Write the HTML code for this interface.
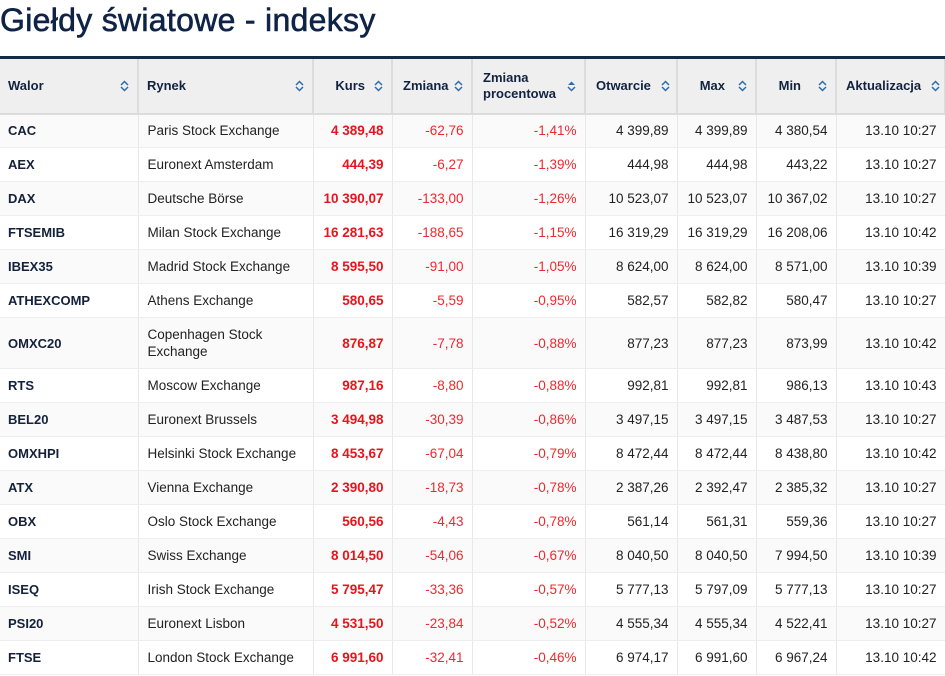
<!DOCTYPE html>
<html><head><meta charset="utf-8"><style>
*{margin:0;padding:0;box-sizing:border-box}
body{width:945px;height:676px;background:#fff;font-family:"Liberation Sans",sans-serif;overflow:hidden;position:relative}
h1{position:absolute;left:0;top:2px;font-size:32px;font-weight:normal;color:#0f2347;letter-spacing:0.3px;line-height:36px;-webkit-text-stroke:0.6px #0f2347}
table{position:absolute;left:0;top:56px;width:945px;border-collapse:collapse;table-layout:fixed;border-top:3px solid #13284b}
th{background:#efefef;height:56px;font-size:13px;color:#12233f;font-weight:bold;border-right:2px solid #dcdcdc;border-bottom:2px solid #dcdcdc;position:relative;padding:0 8px;text-align:left;line-height:16px}
th.r{text-align:right;padding-right:22px}
td{height:34px;font-size:13.5px;color:#222;border-right:1px solid #e8e8e8;border-bottom:1px solid #eee;padding:0 8px;text-align:right;line-height:17px}
tr:nth-child(even) td{background:#fafafa}
td.w{text-align:left;font-weight:bold;color:#14213a;font-size:13px}
td.m{text-align:left;padding-left:9px}
td.k{color:#e8141c;font-weight:bold}
td.z{color:#f0282e}
.s{position:absolute;right:8px;top:50%;margin-top:-6px;width:9px;height:12px}
</style></head><body>
<h1>Giełdy światowe - indeksy</h1>
<table>
<colgroup><col style="width:138px"><col style="width:175px"><col style="width:79px"><col style="width:80px"><col style="width:113px"><col style="width:92px"><col style="width:79px"><col style="width:80px"><col style="width:109px"></colgroup>
<tr>
<th>Walor<svg class="s" viewBox="0 0 9 12"><path d="M1 5L4.5 1.5L8 5M1 7L4.5 10.5L8 7" fill="none" stroke="#2a6cb0" stroke-width="1.5"/></svg></th>
<th>Rynek<svg class="s" viewBox="0 0 9 12"><path d="M1 5L4.5 1.5L8 5M1 7L4.5 10.5L8 7" fill="none" stroke="#2a6cb0" stroke-width="1.5"/></svg></th>
<th class="r" style="padding-right:26px">Kurs<svg class="s" viewBox="0 0 9 12"><path d="M1 5L4.5 1.5L8 5M1 7L4.5 10.5L8 7" fill="none" stroke="#2a6cb0" stroke-width="1.5"/></svg></th>
<th style="padding-left:10px">Zmiana<svg class="s" style="right:8px" viewBox="0 0 9 12"><path d="M1 5L4.5 1.5L8 5M1 7L4.5 10.5L8 7" fill="none" stroke="#2a6cb0" stroke-width="1.5"/></svg></th>
<th style="padding-left:10px">Zmiana<br>procentowa<svg class="s" viewBox="0 0 9 12"><path d="M1 5L4.5 1.5L8 5Z" fill="#2a6cb0"/><path d="M1 7L4.5 10.5L8 7" fill="none" stroke="#2a6cb0" stroke-width="1.5"/></svg></th>
<th style="padding-left:10px">Otwarcie<svg class="s" style="right:6px" viewBox="0 0 9 12"><path d="M1 5L4.5 1.5L8 5M1 7L4.5 10.5L8 7" fill="none" stroke="#2a6cb0" stroke-width="1.5"/></svg></th>
<th class="r" style="padding-right:30px">Max<svg class="s" viewBox="0 0 9 12"><path d="M1 5L4.5 1.5L8 5M1 7L4.5 10.5L8 7" fill="none" stroke="#2a6cb0" stroke-width="1.5"/></svg></th>
<th class="r" style="padding-right:34px">Min<svg class="s" viewBox="0 0 9 12"><path d="M1 5L4.5 1.5L8 5M1 7L4.5 10.5L8 7" fill="none" stroke="#2a6cb0" stroke-width="1.5"/></svg></th>
<th style="padding-left:9px">Aktualizacja<svg class="s" style="right:4px" viewBox="0 0 9 12"><path d="M1 5L4.5 1.5L8 5M1 7L4.5 10.5L8 7" fill="none" stroke="#2a6cb0" stroke-width="1.5"/></svg></th>
</tr>
<tr><td class="w">CAC</td><td class="m">Paris Stock Exchange</td><td class="k">4 389,48</td><td class="z">-62,76</td><td class="z">-1,41%</td><td>4 399,89</td><td>4 399,89</td><td>4 380,54</td><td>13.10 10:27</td></tr>
<tr><td class="w">AEX</td><td class="m">Euronext Amsterdam</td><td class="k">444,39</td><td class="z">-6,27</td><td class="z">-1,39%</td><td>444,98</td><td>444,98</td><td>443,22</td><td>13.10 10:27</td></tr>
<tr><td class="w">DAX</td><td class="m">Deutsche Börse</td><td class="k">10 390,07</td><td class="z">-133,00</td><td class="z">-1,26%</td><td>10 523,07</td><td>10 523,07</td><td>10 367,02</td><td>13.10 10:27</td></tr>
<tr><td class="w">FTSEMIB</td><td class="m">Milan Stock Exchange</td><td class="k">16 281,63</td><td class="z">-188,65</td><td class="z">-1,15%</td><td>16 319,29</td><td>16 319,29</td><td>16 208,06</td><td>13.10 10:42</td></tr>
<tr><td class="w">IBEX35</td><td class="m">Madrid Stock Exchange</td><td class="k">8 595,50</td><td class="z">-91,00</td><td class="z">-1,05%</td><td>8 624,00</td><td>8 624,00</td><td>8 571,00</td><td>13.10 10:39</td></tr>
<tr><td class="w">ATHEXCOMP</td><td class="m">Athens Exchange</td><td class="k">580,65</td><td class="z">-5,59</td><td class="z">-0,95%</td><td>582,57</td><td>582,82</td><td>580,47</td><td>13.10 10:27</td></tr>
<tr><td class="w" style="height:51px">OMXC20</td><td class="m">Copenhagen Stock<br>Exchange</td><td class="k">876,87</td><td class="z">-7,78</td><td class="z">-0,88%</td><td>877,23</td><td>877,23</td><td>873,99</td><td>13.10 10:42</td></tr>
<tr><td class="w">RTS</td><td class="m">Moscow Exchange</td><td class="k">987,16</td><td class="z">-8,80</td><td class="z">-0,88%</td><td>992,81</td><td>992,81</td><td>986,13</td><td>13.10 10:43</td></tr>
<tr><td class="w">BEL20</td><td class="m">Euronext Brussels</td><td class="k">3 494,98</td><td class="z">-30,39</td><td class="z">-0,86%</td><td>3 497,15</td><td>3 497,15</td><td>3 487,53</td><td>13.10 10:27</td></tr>
<tr><td class="w">OMXHPI</td><td class="m">Helsinki Stock Exchange</td><td class="k">8 453,67</td><td class="z">-67,04</td><td class="z">-0,79%</td><td>8 472,44</td><td>8 472,44</td><td>8 438,80</td><td>13.10 10:42</td></tr>
<tr><td class="w">ATX</td><td class="m">Vienna Exchange</td><td class="k">2 390,80</td><td class="z">-18,73</td><td class="z">-0,78%</td><td>2 387,26</td><td>2 392,47</td><td>2 385,32</td><td>13.10 10:27</td></tr>
<tr><td class="w">OBX</td><td class="m">Oslo Stock Exchange</td><td class="k">560,56</td><td class="z">-4,43</td><td class="z">-0,78%</td><td>561,14</td><td>561,31</td><td>559,36</td><td>13.10 10:27</td></tr>
<tr><td class="w">SMI</td><td class="m">Swiss Exchange</td><td class="k">8 014,50</td><td class="z">-54,06</td><td class="z">-0,67%</td><td>8 040,50</td><td>8 040,50</td><td>7 994,50</td><td>13.10 10:39</td></tr>
<tr><td class="w">ISEQ</td><td class="m">Irish Stock Exchange</td><td class="k">5 795,47</td><td class="z">-33,36</td><td class="z">-0,57%</td><td>5 777,13</td><td>5 797,09</td><td>5 777,13</td><td>13.10 10:27</td></tr>
<tr><td class="w">PSI20</td><td class="m">Euronext Lisbon</td><td class="k">4 531,50</td><td class="z">-23,84</td><td class="z">-0,52%</td><td>4 555,34</td><td>4 555,34</td><td>4 522,41</td><td>13.10 10:27</td></tr>
<tr><td class="w">FTSE</td><td class="m">London Stock Exchange</td><td class="k">6 991,60</td><td class="z">-32,41</td><td class="z">-0,46%</td><td>6 974,17</td><td>6 991,60</td><td>6 967,24</td><td>13.10 10:42</td></tr>
</table>
</body></html>
